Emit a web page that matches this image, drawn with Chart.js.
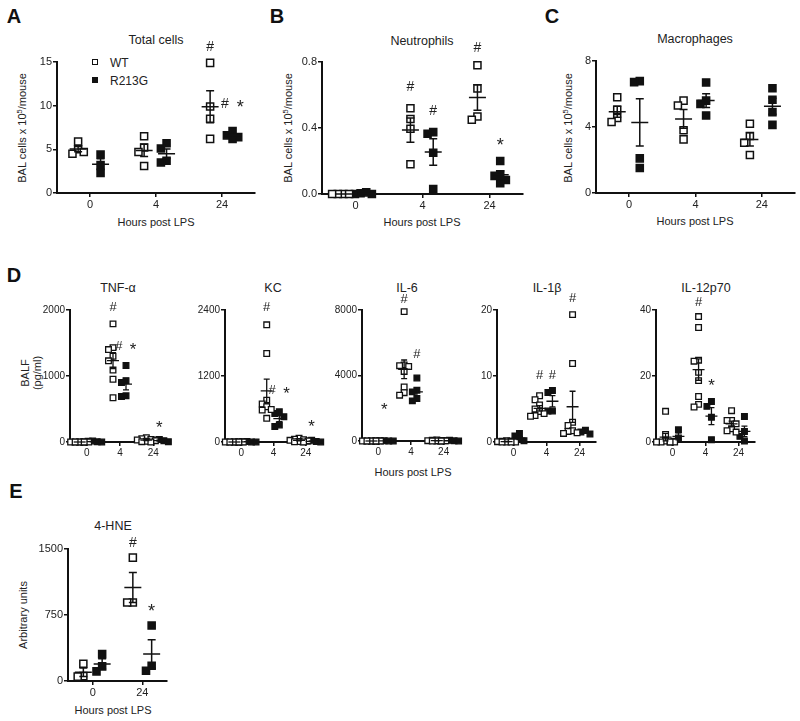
<!DOCTYPE html>
<html>
<head>
<meta charset="utf-8">
<script src="https://cdn.jsdelivr.net/npm/chart.js@4/dist/chart.umd.min.js"></script>
<style>
body { margin: 0; background: #fff; width: 800px; height: 721px; position: relative; overflow: hidden;
       font-family: "Liberation Sans", Arial, Helvetica, sans-serif; color: #222; }
canvas { position: absolute; }
.t, .letter, .yl, .lg { position: absolute; white-space: nowrap; line-height: 1; }
.t { font-size: 12.5px; transform: translate(-50%, -50%); }
.xl { font-size: 11px; }
.letter { font-weight: bold; font-size: 20px; color: #111; transform: translate(-50%, -50%); }
.yl { font-size: 11px; transform: translate(-50%, -50%) rotate(-90deg); text-align: center; }
.yl sup { font-size: 7.5px; vertical-align: 4px; line-height: 0; }
.lg { font-size: 12px; transform: translate(0, -50%); }
.sq { position: absolute; width: 4px; height: 4px; border: 1.5px solid #111; }
</style>
</head>
<body>

<div class="letter" style="left:14px;top:16px">A</div>
<div class="letter" style="left:277px;top:16px">B</div>
<div class="letter" style="left:552px;top:16px">C</div>
<div class="letter" style="left:14px;top:275px">D</div>
<div class="letter" style="left:16px;top:491px">E</div>

<div class="t" style="left:156px;top:40px">Total cells</div>
<div class="t" style="left:422px;top:41px">Neutrophils</div>
<div class="t" style="left:695px;top:39px">Macrophages</div>
<div class="t" style="left:118px;top:288px">TNF-α</div>
<div class="t" style="left:273px;top:288px">KC</div>
<div class="t" style="left:407px;top:288px">IL-6</div>
<div class="t" style="left:547px;top:288px">IL-1β</div>
<div class="t" style="left:706px;top:288px">IL-12p70</div>
<div class="t" style="left:113px;top:526px">4-HNE</div>

<div class="yl" style="left:22px;top:128px">BAL cells x 10<sup>5</sup>/mouse</div>
<div class="yl" style="left:288px;top:128px">BAL cells x 10<sup>5</sup>/mouse</div>
<div class="yl" style="left:568px;top:128px">BAL cells x 10<sup>5</sup>/mouse</div>
<div class="yl" style="left:31px;top:373px;line-height:12px">BALF<br>(pg/ml)</div>
<div class="yl" style="left:23px;top:615px">Arbitrary units</div>

<div class="t xl" style="left:156px;top:222px">Hours post LPS</div>
<div class="t xl" style="left:422px;top:222px">Hours post LPS</div>
<div class="t xl" style="left:695px;top:221px">Hours post LPS</div>
<div class="t xl" style="left:413px;top:472px">Hours post LPS</div>
<div class="t xl" style="left:113px;top:710px">Hours post LPS</div>

<div class="sq" style="left:92px;top:59px;background:#fff"></div>
<div class="lg" style="left:110px;top:63px">WT</div>
<div class="sq" style="left:92px;top:77px;background:#111"></div>
<div class="lg" style="left:110px;top:81px">R213G</div>

<script>
const HOURS = ['0', '4', '24'];
const HOURS_E = ['0', '24'];

// A - total cells (x10^5 / mouse); one inner list per time point
const totalTicks = [0, 5, 10, 15];
const totalWT = [[5.9, 5.0, 4.5, 4.7], [6.5, 5.2, 4.7, 3.1], [14.9, 9.9, 8.5, 6.2]];
const totalR213G = [[4.4, 3.2, 2.3], [5.7, 5.1, 3.7, 3.5], [7.1, 6.6, 6.4, 6.2]];
const totalMarks = [['WT', 2, '#', 16.7], ['R213G', 2, '# *', 10.2]];

// B - neutrophils
const neutroTicks = [0, 0.4, 0.8];
const neutroWT = [[0, 0, 0, 0], [0.52, 0.455, 0.395, 0.18], [0.78, 0.64, 0.47, 0.45]];
const neutroR213G = [[0.01, 0.005, 0, 0], [0.375, 0.365, 0.25, 0.03], [0.2, 0.12, 0.11, 0.085, 0.065]];
const neutroMarks = [['WT', 1, '#', 0.65], ['R213G', 1, '#', 0.5], ['WT', 2, '#', 0.885], ['R213G', 2, '*', 0.315]];

// C - macrophages
const macroTicks = [0, 4, 8];
const macroWT = [[5.8, 5.05, 4.55, 4.3], [5.6, 5.3, 3.8, 3.25], [4.2, 3.45, 3.05, 2.3]];
const macroR213G = [[6.78, 6.72, 2.1, 1.52], [6.7, 5.6, 5.4, 4.7], [6.35, 5.65, 4.9, 4.13]];
const macroMarks = [];

// D - BALF cytokines (pg/ml)
const tnfTicks = [0, 1000, 2000];
const tnfWT = [[0, 0, 0, 0, 0, 0, 0, 0], [1790, 1430, 1400, 1300, 1230, 1090, 950, 670], [65, 50, 40, 30, 20, 10, 5, 0]];
const tnfR213G = [[15, 10, 5, 0, 0], [1160, 930, 900, 700, 690], [40, 30, 20, 10, 5]];
const tnfMarks = [['WT', 1, '#', 2045], ['R213G', 1, '# *', 1455], ['R213G', 2, '*', 273]];

const kcTicks = [0, 1200, 2400];
const kcWT = [[0, 0, 0, 0, 0, 0, 0, 0], [2130, 1610, 760, 690, 640, 590, 580, 430], [70, 50, 40, 30, 20, 10, 5, 0]];
const kcR213G = [[10, 5, 0, 0, 0], [550, 520, 460, 310, 280], [30, 20, 10, 5, 0]];
const kcMarks = [['WT', 1, '#', 2455], ['R213G', 1, '# *', 945], ['R213G', 2, '*', 345]];

const il6Ticks = [0, 4000, 8000];
const il6WT = [[0, 0, 0, 0, 0, 0, 0, 0], [7900, 4650, 4600, 4550, 4250, 3300, 2950, 2800], [60, 40, 30, 20, 10, 5, 0, 0]];
const il6R213G = [[20, 10, 0, 0, 0], [3850, 3100, 3000, 2600, 2450], [40, 20, 10, 0, 0]];
const il6Marks = [['WT', 1, '#', 8672], ['R213G', 1, '#', 5313], ['R213G', 0, '*', 2137]];

const il1bTicks = [0, 10, 20];
const il1bWT = [[0.2, 0.1, 0.1, 0.05, 0, 0, 0, 0], [7.0, 6.4, 5.6, 5.0, 4.6, 4.3, 4.0, 3.9], [19.3, 11.9, 3.0, 2.5, 1.7, 1.6, 1.4, 1.3]];
const il1bR213G = [[1.3, 0.9, 0.4, 0.2, 0.1], [7.8, 7.5, 4.7, 4.7], [1.8, 1.5, 1.2]];
const il1bMarks = [['WT', 1, '#', 10.15], ['R213G', 1, '#', 10.15], ['WT', 2, '#', 21.7]];

const il12Ticks = [0, 20, 40];
const il12WT = [[9.3, 2.3, 0.3, 0, 0, 0, 0, 0], [38, 34.7, 24.8, 24.5, 21.1, 18.6, 13.8, 11.4, 10.6], [9.5, 6.5, 6.5, 5.5, 4.0, 3.4, 3.0]];
const il12R213G = [[3.7, 1.2, 0.2], [12.3, 10.8, 7.5, 0.7], [7.7, 3.2, 1.7, 0.3]];
const il12Marks = [['WT', 1, '#', 42.4], ['R213G', 1, '*', 18.2]];

// E - 4-HNE (arbitrary units)
const hneTicks = [0, 750, 1500];
const hneWT = [[196, 55, 50], [1402, 893, 893]];
const hneR213G = [[305, 166, 109], [630, 174, 117]];
const hneMarks = [['WT', 1, '#', 1568], ['R213G', 1, '*', 830]];

const FONT = '"Liberation Sans", Arial, Helvetica, sans-serif';

const styles = {
  big:   { r: 5, bw: 1.5, tickFont: 11, markSize: 14, meanHalf: 8.5, capHalf: 4, lw: 1.5, offWT: -0.18, offR: 0.16 },
  small: { r: 4, bw: 1.3, tickFont: 10, markSize: 13, meanHalf: 6, capHalf: 3, lw: 1.3, offWT: -0.21, offR: 0.18 },
  hne:   { r: 5, bw: 1.5, tickFont: 11, markSize: 14, meanHalf: 8.5, capHalf: 4, lw: 1.5, offWT: -0.19, offR: 0.19 }
};

// mean + SEM bars and significance marks
const statsPlugin = {
  id: 'groupStats',
  afterDatasetsDraw(chart, args, o) {
    const ctx = chart.ctx, xs = chart.scales.x, ys = chart.scales.y;
    ctx.save();
    ctx.strokeStyle = '#111';
    ctx.lineWidth = o.lw;
    o.groups.forEach(g => {
      const n = g.values.length;
      const mean = g.values.reduce((a, b) => a + b, 0) / n;
      const sd = Math.sqrt(g.values.reduce((a, b) => a + (b - mean) ** 2, 0) / (n - 1));
      const sem = sd / Math.sqrt(n);
      const cx = xs.getPixelForValue(g.center);
      const ym = ys.getPixelForValue(mean);
      const yt = ys.getPixelForValue(mean + sem);
      const yb = ys.getPixelForValue(Math.max(0, mean - sem));
      ctx.beginPath();
      ctx.moveTo(cx - o.meanHalf, ym); ctx.lineTo(cx + o.meanHalf, ym);
      if (sem > 0) {
        ctx.moveTo(cx, yt); ctx.lineTo(cx, yb);
        ctx.moveTo(cx - o.capHalf, yt); ctx.lineTo(cx + o.capHalf, yt);
        ctx.moveTo(cx - o.capHalf, yb); ctx.lineTo(cx + o.capHalf, yb);
      }
      ctx.stroke();
    });
    ctx.fillStyle = '#222';
    ctx.textAlign = 'center';
    ctx.textBaseline = 'middle';
    o.marks.forEach(m => {
      const cx = xs.getPixelForValue(m.center);
      const py = ys.getPixelForValue(m.y);
      // draw '#' and '*' separately so the asterisk can be a little larger
      const parts = m.text.split(' ');
      const gap = parts.length > 1 ? o.markSize * 0.55 : 0;
      parts.forEach((p, i) => {
        const star = p === '*';
        ctx.font = (star ? o.markSize * 1.3 : o.markSize) + 'px ' + FONT;
        const dx = parts.length > 1 ? (i === 0 ? -gap : gap) : 0;
        ctx.fillText(p, cx + dx, py + (star ? 4 : 0));
      });
    });
    ctx.restore();
  }
};

// spread overlapping points sideways, like a column scatter
function swarm(groups, offset, pxX, pxY, size) {
  const pts = [];
  groups.forEach((vals, gi) => {
    const center = gi + 1 + offset;
    const placed = [];
    const slots = [0, -1, 1, -2, 2];
    vals.forEach((v, i) => {
      let s = slots.find(s => !placed.some(p => p.s === s && Math.abs(p.v - v) * pxY < size));
      if (s === undefined) s = slots[i % 5];
      placed.push({ s, v });
      pts.push({ x: center + s * size * 0.8 / pxX, y: v });
    });
  });
  return pts;
}

function panel(box, hours, ticks, wt, mut, marks, st, dec) {
  const YW = 44, XH = 24, PT = 36, PR = 10;
  const [x0, y0, x1, y1] = box;
  const w = x1 - x0 + YW + PR, h = y1 - y0 + PT + XH;
  const cv = document.createElement('canvas');
  cv.width = w; cv.height = h;
  cv.style.left = (x0 - YW) + 'px'; cv.style.top = (y0 - PT) + 'px';
  cv.style.width = w + 'px'; cv.style.height = h + 'px';
  document.body.appendChild(cv);

  const xMin = 0.5, xMax = hours.length + 0.5;
  const yMax = ticks[ticks.length - 1];
  const pxX = (x1 - x0) / (xMax - xMin), pxY = (y1 - y0) / yMax;
  const size = st.r * Math.SQRT2;

  const groups = [];
  wt.forEach((v, i) => groups.push({ center: i + 1 + st.offWT, values: v }));
  mut.forEach((v, i) => groups.push({ center: i + 1 + st.offR, values: v }));
  const markList = marks.map(([s, g, text, y]) => ({ center: g + 1 + (s === 'WT' ? st.offWT : st.offR), text, y }));

  const tickFont = { family: FONT, size: st.tickFont };
  new Chart(cv, {
    type: 'scatter',
    data: {
      datasets: [
        { label: 'WT', data: swarm(wt, st.offWT, pxX, pxY, size), backgroundColor: '#fff', borderColor: '#111',
          borderWidth: st.bw, pointStyle: 'rect', pointRadius: st.r, clip: false },
        { label: 'R213G', data: swarm(mut, st.offR, pxX, pxY, size), backgroundColor: '#111', borderColor: '#111',
          borderWidth: st.bw, pointStyle: 'rect', pointRadius: st.r, clip: false }
      ]
    },
    options: {
      responsive: false,
      animation: false,
      events: [],
      layout: { padding: { top: PT, right: PR, left: 0, bottom: 0 } },
      plugins: {
        legend: { display: false },
        tooltip: { enabled: false },
        groupStats: { groups, marks: markList, lw: st.lw, meanHalf: st.meanHalf, capHalf: st.capHalf, markSize: st.markSize }
      },
      scales: {
        x: {
          type: 'linear', min: xMin, max: xMax,
          afterBuildTicks: s => { s.ticks = hours.map((_, i) => ({ value: i + 1 })); },
          afterFit: s => { s.height = XH; },
          ticks: { callback: (v, i) => hours[i], font: tickFont, color: '#222', padding: 1, autoSkip: false, maxRotation: 0 },
          grid: { drawOnChartArea: false, drawTicks: true, tickLength: 4, color: '#111', lineWidth: 1.5 },
          border: { color: '#111', width: 2 }
        },
        y: {
          type: 'linear', min: 0, max: yMax,
          afterBuildTicks: s => { s.ticks = ticks.map(v => ({ value: v })); },
          afterFit: s => { s.width = YW; },
          ticks: { callback: v => dec ? v.toFixed(dec) : String(v), font: tickFont, color: '#222', padding: 1, autoSkip: false },
          grid: { drawOnChartArea: false, drawTicks: true, tickLength: 4, color: '#111', lineWidth: 1.5 },
          border: { color: '#111', width: 2 }
        }
      }
    },
    plugins: [statsPlugin]
  });
}

panel([57, 62, 255, 193], HOURS, totalTicks, totalWT, totalR213G, totalMarks, styles.big, 0);
panel([322, 62, 523, 194], HOURS, neutroTicks, neutroWT, neutroR213G, neutroMarks, styles.big, 1);
panel([596, 61, 795, 193], HOURS, macroTicks, macroWT, macroR213G, macroMarks, styles.big, 0);
panel([70, 310, 170, 442], HOURS, tnfTicks, tnfWT, tnfR213G, tnfMarks, styles.small, 0);
panel([225, 310, 322, 442], HOURS, kcTicks, kcWT, kcR213G, kcMarks, styles.small, 0);
panel([362, 310, 460, 441], HOURS, il6Ticks, il6WT, il6R213G, il6Marks, styles.small, 0);
panel([497, 310, 596, 442], HOURS, il1bTicks, il1bWT, il1bR213G, il1bMarks, styles.small, 0);
panel([656, 310, 755, 442], HOURS, il12Ticks, il12WT, il12R213G, il12Marks, styles.small, 0);
panel([68, 549, 167, 681], HOURS_E, hneTicks, hneWT, hneR213G, hneMarks, styles.hne, 0);
</script>
</body>
</html>
